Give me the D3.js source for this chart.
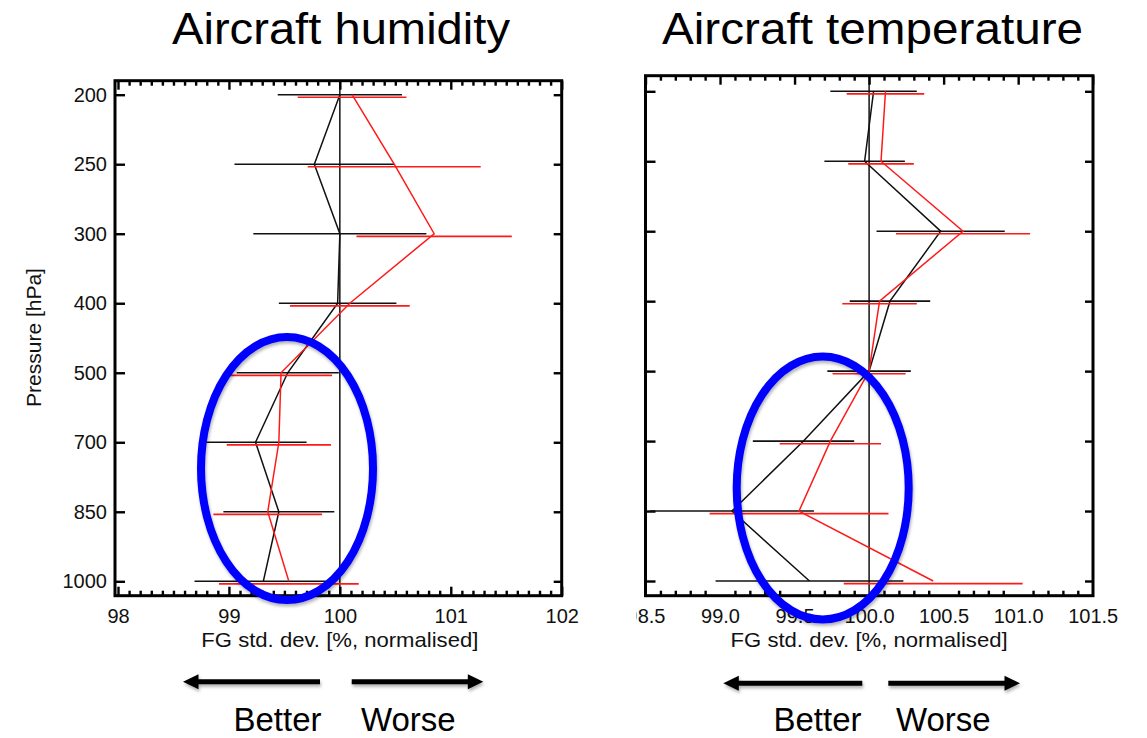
<!DOCTYPE html>
<html>
<head>
<meta charset="utf-8">
<script src="https://cdn.jsdelivr.net/npm/d3@7"></script>
<style>
  html, body { margin: 0; padding: 0; background: #fff; }
  svg { display: block; font-family: "Liberation Sans", Arial, Helvetica, sans-serif; }
</style>
</head>
<body>
<svg id="chart" width="1147" height="738"></svg>
<script>
// Pressure levels (hPa), top to bottom
const levels = [200, 250, 300, 400, 500, 700, 850, 1000];

// Aircraft humidity: normalised FG std. dev. [%] and error half-widths
const humControl    = [100.00, 99.77, 100.00, 99.98, 99.53, 99.24, 99.45, 99.31];
const humControlErr = [0.56, 0.72, 0.78, 0.53, 0.46, 0.46, 0.50, 0.62];
const humExp        = [100.11, 100.49, 100.85, 100.09, 99.47, 99.45, 99.35, 99.54];
const humExpErr     = [0.49, 0.78, 0.70, 0.54, 0.46, 0.47, 0.49, 0.63];

// Aircraft temperature
const tempControl    = [100.03, 99.97, 100.48, 100.14, 100.00, 99.56, 99.08, 99.60];
const tempControlErr = [0.29, 0.27, 0.43, 0.27, 0.28, 0.34, 0.55, 0.63];
const tempExp        = [100.11, 100.08, 100.63, 100.07, 100.00, 99.74, 99.53, 100.43];
const tempExpErr     = [0.26, 0.22, 0.45, 0.25, 0.245, 0.34, 0.60, 0.60];

// Axis tick labels
const humTicks  = [98, 99, 100, 101, 102];
const tempTicks = [98.5, 99.0, 99.5, 100.0, 100.5, 101.0, 101.5];

const svg = d3.select("#chart");

const defs = svg.append("defs");
defs.append("filter").attr("id", "soft").attr("x", "-20%").attr("y", "-20%")
  .attr("width", "140%").attr("height", "160%")
  .append("feDropShadow").attr("dx", 1).attr("dy", 2.5).attr("stdDeviation", 1.6)
  .attr("flood-color", "#000").attr("flood-opacity", 0.3);
defs.append("clipPath").attr("id", "tempLabelClip")
  .append("rect").attr("x", 636.5).attr("y", 0).attr("width", 520).attr("height", 738);

function panel(cfg) {
  const { x, y, frame, control, controlErr, exp, expErr, ticks, tickFmt, minorStep,
          title, titleX, titleLen, showY, labelClip } = cfg;
  const g = svg.append("g");

  // title
  g.append("text").attr("x", titleX).attr("y", 44).attr("text-anchor", "middle")
    .attr("font-size", 44).attr("textLength", titleLen).attr("lengthAdjust", "spacingAndGlyphs")
    .attr("fill", "#000").text(title);

  const [x0, x1] = x.domain();
  const minors = d3.range(Math.round((x1 - x0) / minorStep) + 1)
    .map(i => +(x0 + i * minorStep).toFixed(3))
    .filter(v => !ticks.some(t => Math.abs(t - v) < 1e-6));

  const styleAxis = a => {
    a.select(".domain").remove();
    a.selectAll(".tick line").attr("stroke", "#000").attr("stroke-width", 2.4);
  };

  // bottom axis with labels
  const bottom = g.append("g").attr("transform", `translate(0,${frame.y1})`)
    .call(d3.axisBottom(x).tickValues(ticks).tickFormat(tickFmt).tickSize(-9).tickPadding(13));
  styleAxis(bottom);
  bottom.selectAll("text").attr("font-size", 20).attr("fill", "#111")
    .attr("font-family", "\"Liberation Sans\", Arial, sans-serif");
  if (labelClip) bottom.attr("clip-path", `url(#${labelClip})`);
  g.append("g").attr("transform", `translate(0,${frame.y1})`)
    .call(d3.axisBottom(x).tickValues(minors).tickFormat("").tickSize(-5)).call(styleAxis);

  // top axis (ticks only)
  g.append("g").attr("transform", `translate(0,${frame.y0})`)
    .call(d3.axisTop(x).tickValues(ticks).tickFormat("").tickSize(-9)).call(styleAxis);
  g.append("g").attr("transform", `translate(0,${frame.y0})`)
    .call(d3.axisTop(x).tickValues(minors).tickFormat("").tickSize(-5)).call(styleAxis);

  // left / right axes
  const left = g.append("g").attr("transform", `translate(${frame.x0},0)`)
    .call(d3.axisLeft(y).tickSize(-10).tickPadding(8).tickFormat(showY ? d => d : ""));
  styleAxis(left);
  left.selectAll("text").attr("font-size", 20).attr("fill", "#111")
    .attr("font-family", "\"Liberation Sans\", Arial, sans-serif");
  g.append("g").attr("transform", `translate(${frame.x1},0)`)
    .call(d3.axisRight(y).tickSize(-8).tickFormat("")).call(styleAxis);

  // frame
  g.append("rect").attr("x", frame.x0).attr("y", frame.y0)
    .attr("width", frame.x1 - frame.x0).attr("height", frame.y1 - frame.y0)
    .attr("fill", "none").attr("stroke", "#000").attr("stroke-width", 3);

  // reference line at 100 %
  g.append("line").attr("x1", x(100)).attr("x2", x(100))
    .attr("y1", frame.y0).attr("y2", frame.y1)
    .attr("stroke", "#000").attr("stroke-width", 1.4);

  // axis title
  g.append("text").attr("x", x(100)).attr("y", 646.5).attr("text-anchor", "middle")
    .attr("font-size", 21).attr("textLength", 277).attr("lengthAdjust", "spacingAndGlyphs")
    .attr("fill", "#111").text("FG std. dev. [%, normalised]");

  const clipId = "clip" + Math.round(frame.x0);
  defs.append("clipPath").attr("id", clipId).append("rect")
    .attr("x", frame.x0).attr("y", frame.y0)
    .attr("width", frame.x1 - frame.x0).attr("height", frame.y1 - frame.y0);
  const plot = g.append("g").attr("clip-path", `url(#${clipId})`);

  const series = [
    { vals: control, errs: controlErr, color: "#111", off: 0 },
    { vals: exp, errs: expErr, color: "#ff1a1a", off: 2.6 }
  ];
  series.forEach(s => {
    const pts = levels.map((lv, i) => ({ lv, v: s.vals[i], e: s.errs[i] }));
    plot.append("g").selectAll("line").data(pts).join("line")
      .attr("x1", d => x(d.v - d.e)).attr("x2", d => x(d.v + d.e))
      .attr("y1", d => y(d.lv) + s.off).attr("y2", d => y(d.lv) + s.off)
      .attr("stroke", s.color).attr("stroke-width", 1.6);
    plot.append("path").datum(pts)
      .attr("d", d3.line().x(d => x(d.v)).y(d => y(d.lv)))
      .attr("fill", "none").attr("stroke", s.color).attr("stroke-width", 1.5);
  });
  return g;
}

const xHum  = d3.scaleLinear([98, 102], [118, 561.7]);
const yHum  = d3.scalePoint(levels, [94.7, 581.3]);
const xTemp = d3.scaleLinear([98.5, 101.5], [645.5, 1092.7]);
const yTemp = d3.scalePoint(levels, [91.3, 581]);

panel({
  x: xHum, y: yHum, frame: { x0: 115, x1: 561.7, y0: 80.7, y1: 595.7 },
  control: humControl, controlErr: humControlErr, exp: humExp, expErr: humExpErr,
  ticks: humTicks, tickFmt: d3.format("d"), minorStep: 0.1,
  title: "Aircraft humidity", titleX: 341, titleLen: 338, showY: true
});
panel({
  x: xTemp, y: yTemp, frame: { x0: 645.5, x1: 1093, y0: 75.7, y1: 595.7 },
  control: tempControl, controlErr: tempControlErr, exp: tempExp, expErr: tempExpErr,
  ticks: tempTicks, tickFmt: d3.format(".1f"), minorStep: 0.1,
  title: "Aircraft temperature", titleX: 872.5, titleLen: 421, showY: false,
  labelClip: "tempLabelClip"
});

// y-axis title
svg.append("text").attr("transform", "translate(40.5,337.5) rotate(-90)")
  .attr("text-anchor", "middle").attr("font-size", 21).attr("fill", "#111")
  .text("Pressure [hPa]");

// highlight ellipses around the lower levels
const rings = [
  { cx: 287, cy: 468.5 },
  { cx: 822.7, cy: 488 }
];
svg.append("g").selectAll("ellipse").data(rings).join("ellipse")
  .attr("cx", d => d.cx).attr("cy", d => d.cy).attr("rx", 86).attr("ry", 131.5)
  .attr("fill", "none").attr("stroke", "#0000ff").attr("stroke-width", 8)
  .attr("filter", "url(#soft)");

// Better / Worse arrows
function arrow(xTail, xTip, yy) {
  const dir = Math.sign(xTip - xTail), head = 15.5, half = 7.5;
  const g = svg.append("g").attr("filter", "url(#soft)");
  g.append("line").attr("x1", xTail).attr("x2", xTip - dir * (head - 2))
    .attr("y1", yy).attr("y2", yy).attr("stroke", "#000").attr("stroke-width", 5);
  g.append("path").attr("d",
    `M${xTip},${yy} L${xTip - dir * head},${yy - half} L${xTip - dir * head},${yy + half} Z`)
    .attr("fill", "#000");
}
arrow(320, 183, 681.7);
arrow(351.7, 483.3, 681.7);
arrow(862.3, 723.3, 683.3);
arrow(888.3, 1020, 683.3);

const words = [
  { t: "Better", x: 277.5, y: 731 },
  { t: "Worse",  x: 408.3, y: 731 },
  { t: "Better", x: 817.5, y: 731 },
  { t: "Worse",  x: 943.3, y: 731 }
];
svg.append("g").selectAll("text").data(words).join("text")
  .attr("x", d => d.x).attr("y", d => d.y).attr("text-anchor", "middle")
  .attr("font-size", 33).attr("fill", "#000").text(d => d.t);
</script>
</body>
</html>
